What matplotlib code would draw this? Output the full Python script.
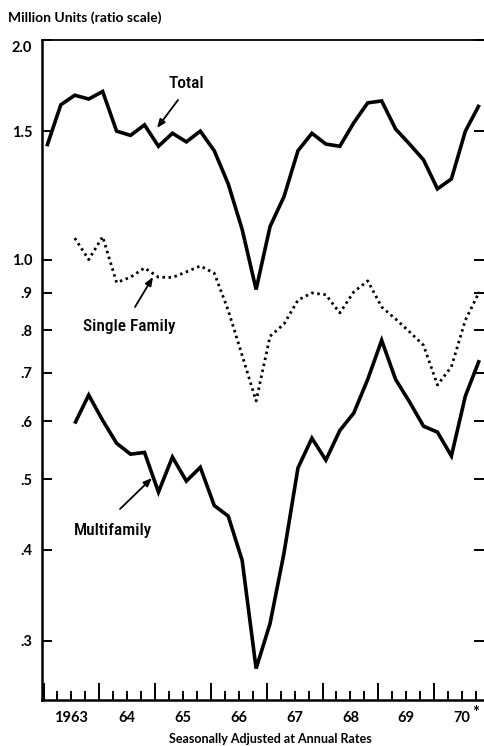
import matplotlib
matplotlib.use("Agg")
import matplotlib.pyplot as plt
import matplotlib.transforms as mtransforms
from matplotlib.ticker import NullLocator, FixedLocator, NullFormatter

# quarterly housing starts, seasonally adjusted annual rates (million units)
start_year = 1963
total = [1.43, 1.63, 1.68, 1.66, 1.70, 1.50, 1.48, 1.53, 1.43, 1.49, 1.45, 1.50,
         1.41, 1.27, 1.10, 0.91, 1.11, 1.22, 1.41, 1.49, 1.44, 1.43, 1.54, 1.64,
         1.65, 1.51, 1.44, 1.37, 1.25, 1.29, 1.50, 1.63]
# single family and multifamily start in the third quarter of 1963
single_family = [1.07, 1.00, 1.075, 0.93, 0.946, 0.974, 0.946, 0.945, 0.962, 0.98,
                 0.958, 0.852, 0.739, 0.64, 0.785, 0.816, 0.88, 0.90, 0.895, 0.845,
                 0.903, 0.935, 0.861, 0.829, 0.796, 0.763, 0.673, 0.713, 0.826, 0.903]
multifamily = [0.596, 0.652, 0.602, 0.56, 0.541, 0.544, 0.48, 0.536, 0.497, 0.519,
               0.46, 0.445, 0.387, 0.275, 0.317, 0.396, 0.518, 0.569, 0.531, 0.583,
               0.616, 0.685, 0.775, 0.685, 0.638, 0.591, 0.58, 0.538, 0.65, 0.728]
sub_start = 2  # index of first quarter for the component series

y_ticks = [2.0, 1.5, 1.0, 0.9, 0.8, 0.7, 0.6, 0.5, 0.4, 0.3]
y_labels = ["2.0", "1.5", "1.0", ".9", ".8", ".7", ".6", ".5", ".4", ".3"]
years = list(range(1963, 1971))
year_labels = ["1963", "64", "65", "66", "67", "68", "69", "70"]

W, H = 484, 746
GEO = ["Lato", "DejaVu Sans"]
NARROW = ["Roboto Condensed", "Roboto", "DejaVu Sans"]


def fp(x, y):
    """pixel position (top-left origin) -> figure fraction"""
    return (x / W, 1 - y / H)


def qx(i):
    return start_year + 0.25 * i + 0.06


fig = plt.figure(figsize=(W / 100, H / 100), dpi=100)
ax = fig.add_axes([42 / W, 1 - 700 / H, (W - 42) / W, (700 - 40) / H])
ax.set_yscale("log")

ax.plot([qx(i) for i in range(len(total))], total, color="black", lw=2.6,
        solid_joinstyle="miter", solid_capstyle="butt")
ax.plot([qx(i + sub_start) for i in range(len(single_family))], single_family,
        color="black", lw=2.0, ls=(0, (0.9, 1.3)))
ax.plot([qx(i + sub_start) for i in range(len(multifamily))], multifamily,
        color="black", lw=2.6, solid_joinstyle="miter", solid_capstyle="butt")

ax.set_xlim(1962.973, 1970.894)
ax.set_ylim(0.249, 2.0)

# y axis: ratio scale
ax.yaxis.set_major_locator(FixedLocator(y_ticks))
ax.yaxis.set_minor_locator(NullLocator())
ax.set_yticklabels(y_labels)
ax.tick_params(axis="y", which="major", direction="in", length=7, width=1.4,
               right=True, labelsize=10.5, pad=7)
for lab in ax.get_yticklabels():
    lab.set_fontfamily(GEO)
    lab.set_fontweight("bold")
# the top label sits a little below the frame
top_lab = ax.get_yticklabels()[0]
top_lab.set_transform(top_lab.get_transform() +
                      mtransforms.ScaledTranslation(0, -5 / 72, fig.dpi_scale_trans))

# x axis: year ticks and quarter ticks pointing up
ax.set_xticks(years)
ax.set_xticks([y + q for y in years for q in (0.25, 0.5, 0.75)], minor=True)
ax.xaxis.set_major_formatter(NullFormatter())
ax.tick_params(axis="x", which="major", direction="in", length=12, width=1.4, top=False)
ax.tick_params(axis="x", which="minor", direction="in", length=6.5, width=1.4, top=False)
for yr, lab in zip(years, year_labels):
    ax.text(yr + 0.5, -0.027, lab, transform=ax.get_xaxis_transform(), ha="center",
            va="center", fontsize=10.5, fontweight="bold", family=GEO)
ax.text(years[-1] + 0.5 + 0.24, -0.02, "*", transform=ax.get_xaxis_transform(),
        ha="center", va="center", fontsize=12, fontweight="bold", family=GEO)

for side in ("left", "bottom"):
    ax.spines[side].set_linewidth(1.8)
ax.spines["top"].set_linewidth(1.3)
ax.spines["right"].set_visible(False)

fig.text(*fp(8, 18), "Million Units (ratio scale)", ha="left", va="center",
         fontsize=10, fontweight="bold", family=GEO)
fig.text(*fp(270, 739), "Seasonally Adjusted at Annual Rates", ha="center", va="center",
         fontsize=9, fontweight="bold", family=GEO)

# series labels with arrows
arrow = dict(arrowstyle="-|>,head_length=0.5,head_width=0.2", color="black", lw=1.3,
             shrinkA=0, shrinkB=0)
fig.text(*fp(186, 84), "Total", ha="center", va="center", fontsize=12.5, family=NARROW,
         fontweight="medium")
ax.annotate("", xy=fp(157, 128), xytext=fp(178, 100), xycoords="figure fraction",
            textcoords="figure fraction", arrowprops=arrow)
fig.text(*fp(129, 327), "Single Family", ha="center", va="center", fontsize=12.5,
         family=NARROW, fontweight="medium")
ax.annotate("", xy=fp(153, 277), xytext=fp(135, 307), xycoords="figure fraction",
            textcoords="figure fraction", arrowprops=arrow)
fig.text(*fp(113, 531), "Multifamily", ha="center", va="center", fontsize=12.5,
         family=NARROW, fontweight="medium")
ax.annotate("", xy=fp(152, 478), xytext=fp(120, 509), xycoords="figure fraction",
            textcoords="figure fraction", arrowprops=arrow)

fig.savefig("out.png", dpi=100)
